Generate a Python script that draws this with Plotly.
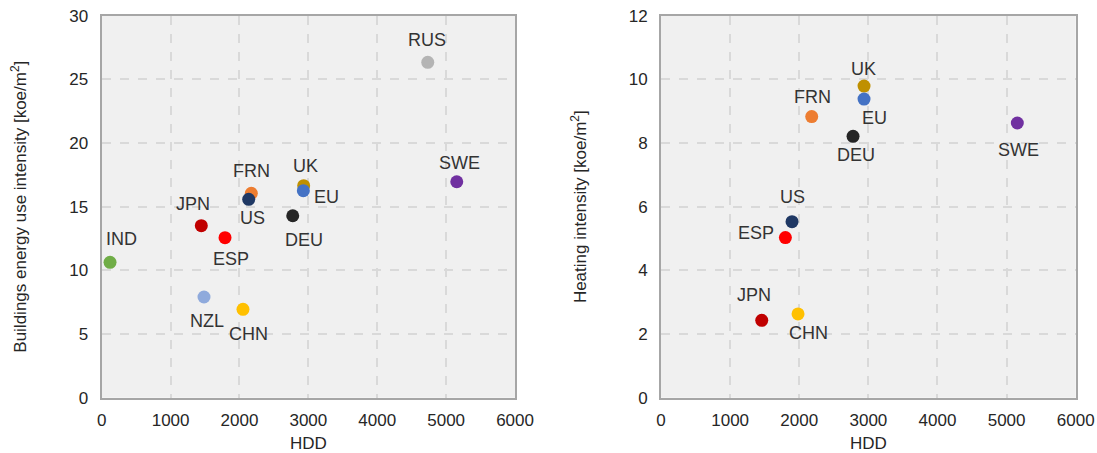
import plotly.graph_objects as go

# ---- data (left: buildings energy use intensity) ----
left_countries = ["RUS", "SWE", "UK", "EU", "FRN", "US", "DEU", "JPN", "ESP", "IND", "NZL", "CHN"]
left_hdd = [4733, 5154, 2932, 2927, 2172, 2134, 2773, 1446, 1790, 121, 1485, 2051]
left_intensity = [26.34, 16.96, 16.65, 16.26, 16.05, 15.58, 14.29, 13.51, 12.57, 10.63, 7.91, 6.94]

# ---- data (right: heating intensity) ----
right_countries = ["UK", "EU", "FRN", "DEU", "SWE", "US", "ESP", "JPN", "CHN"]
right_hdd = [2937, 2937, 2180, 2778, 5155, 1895, 1799, 1457, 1982]
right_intensity = [9.79, 9.38, 8.83, 8.21, 8.63, 5.53, 5.03, 2.43, 2.63]

x_ticks = [0, 1000, 2000, 3000, 4000, 5000, 6000]
left_y_ticks = [0, 5, 10, 15, 20, 25, 30]
right_y_ticks = [0, 2, 4, 6, 8, 10, 12]

# ---- styles ----
colors = {
    "RUS": "#b4b4b4", "SWE": "#7030a0", "UK": "#bf9000", "EU": "#4472c4",
    "FRN": "#ed7d31", "US": "#1f3864", "DEU": "#262626", "JPN": "#c00000",
    "ESP": "#ff0000", "IND": "#70ad47", "NZL": "#8faadc", "CHN": "#ffc000",
}
# label pixel offsets (dx right, dy down)
left_offsets = {
    "RUS": (-1, -22), "SWE": (3, -19), "UK": (2, -20), "EU": (23, 6),
    "FRN": (0, -22), "US": (4, 19), "DEU": (11, 24), "JPN": (-8, -22),
    "ESP": (6, 21), "IND": (11, -23), "NZL": (3, 24), "CHN": (6, 25),
}
right_offsets = {
    "UK": (-1, -17), "EU": (10, 19), "FRN": (1, -20), "DEU": (3, 19),
    "SWE": (1, 27), "US": (0, -25), "ESP": (-29, -5), "JPN": (-8, -25),
    "CHN": (10, 19),
}

FONT = "Liberation Sans, Arial, sans-serif"
TEXT = "#333333"
TICK = "#262626"

fig = go.Figure()

def add_panel(countries, hdd, vals, offsets, xref, yref):
    fig.add_trace(go.Scatter(
        x=hdd, y=vals, mode="markers", xaxis=xref, yaxis=yref,
        marker=dict(size=13, color=[colors[c] for c in countries]),
        showlegend=False, hoverinfo="x+y+text", text=countries,
    ))
    for c, xv, yv in zip(countries, hdd, vals):
        dx, dy = offsets[c]
        fig.add_annotation(
            x=xv, y=yv, xref=xref, yref=yref, text=c, showarrow=False,
            xshift=dx, yshift=-dy, font=dict(family=FONT, size=18, color=TEXT),
        )

add_panel(left_countries, left_hdd, left_intensity, left_offsets, "x", "y")
add_panel(right_countries, right_hdd, right_intensity, right_offsets, "x2", "y2")

axis_common = dict(
    showline=True, linecolor="#a6a6a6", linewidth=2, mirror=True,
    showgrid=True, gridcolor="#d9d9d9", griddash="dash", gridwidth=1.5,
    zeroline=False, ticks="", automargin=False, ticklabeloverflow="allow",
    tickfont=dict(family=FONT, size=17, color=TICK),
)
title_font = dict(family=FONT, size=17, color=TICK)

W, H = 1097, 453
ydom = [0.1221, 0.9653]
fig.update_layout(
    width=W, height=H,
    margin=dict(l=0, r=0, t=0, b=0),
    paper_bgcolor="white", plot_bgcolor="#f0f0f0",
    font=dict(family=FONT, color=TEXT),
    xaxis=dict(domain=[0.0927, 0.4695], range=[0, 6000], tickvals=x_ticks,
               ticklabelstandoff=6,
               title=dict(text="HDD", font=title_font, standoff=8),
               **axis_common),
    yaxis=dict(domain=ydom, range=[0, 30], tickvals=left_y_ticks,
               ticklabelstandoff=8,
               title=dict(text="Buildings energy use intensity [koe/m<sup>2</sup>]",
                          font=title_font, standoff=38),
               **axis_common),
    xaxis2=dict(domain=[0.6026, 0.9806], range=[0, 6000], tickvals=x_ticks, anchor="y2",
                ticklabelstandoff=6,
                title=dict(text="HDD", font=title_font, standoff=8),
                **axis_common),
    yaxis2=dict(domain=ydom, range=[0, 12], tickvals=right_y_ticks, anchor="x2",
                ticklabelstandoff=8,
                title=dict(text="Heating intensity [koe/m<sup>2</sup>]",
                           font=title_font, standoff=38),
                **axis_common),
)

# remove the browser's default page margin so the figure fills the window exactly
fig.write_html("out.html",
               config={"displayModeBar": False},
               post_script="document.body.style.margin='0';document.body.style.overflow='hidden';")
